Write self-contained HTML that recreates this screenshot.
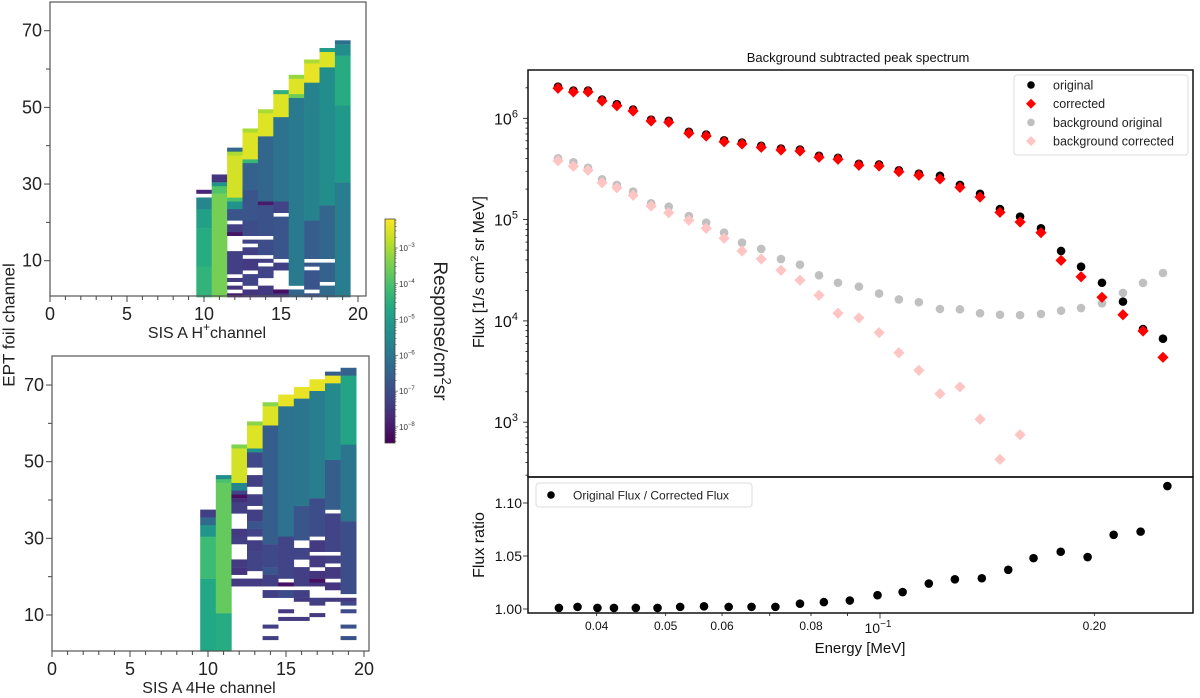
<!DOCTYPE html>
<html><head><meta charset="utf-8"><style>
html,body{margin:0;padding:0;background:#fff;}
svg{display:block;font-family:"Liberation Sans",sans-serif;}
</style></head><body>
<svg id="root" width="1200" height="698" viewBox="0 0 1200 698" xmlns="http://www.w3.org/2000/svg">
<defs>
<linearGradient id="vir" x1="0" y1="1" x2="0" y2="0">
<stop offset="0" stop-color="#440154"/><stop offset="0.1" stop-color="#482475"/><stop offset="0.2" stop-color="#414487"/><stop offset="0.3" stop-color="#355f8d"/><stop offset="0.4" stop-color="#2a788e"/><stop offset="0.5" stop-color="#21918c"/><stop offset="0.6" stop-color="#22a884"/><stop offset="0.7" stop-color="#44bf70"/><stop offset="0.8" stop-color="#7ad151"/><stop offset="0.9" stop-color="#bddf26"/><stop offset="1" stop-color="#fde725"/>
</linearGradient>
</defs>
<g id="hmTop"></g>
<g id="hmBot"></g>
<g id="cbar"></g>
<g id="main"></g>
<g id="ratio"></g>
<text x="10" y="325" font-size="17" text-anchor="middle" transform="rotate(-90 10 325)" dominant-baseline="middle" fill="#222">EPT foil channel</text>
<text x="207" y="338" font-size="16" text-anchor="middle" fill="#222">SIS A H<tspan dy="-7" font-size="12">+</tspan><tspan dy="7">channel</tspan></text>
<text x="209" y="693" font-size="16" text-anchor="middle" fill="#222">SIS A 4He channel</text>
<text x="434" y="331" font-size="19" text-anchor="middle" transform="rotate(90 434 331)" fill="#222">Response/cm<tspan dy="-8" font-size="13">2</tspan><tspan dy="8">sr</tspan></text>
<text x="858" y="62" font-size="13" text-anchor="middle" fill="#111">Background subtracted peak spectrum</text>
<text x="484" y="272" font-size="16" text-anchor="middle" transform="rotate(-90 484 272)" fill="#111">Flux [1/s cm<tspan dy="-6" font-size="11">2</tspan><tspan dy="6"> sr MeV]</tspan></text>
<text x="484" y="545" font-size="16" text-anchor="middle" transform="rotate(-90 484 545)" fill="#111">Flux ratio</text>
<text x="860" y="653" font-size="15" text-anchor="middle" fill="#111">Energy [MeV]</text>
</svg>
<script>
// ---------- Heatmap data: [column, rowStart, rowEnd, log10 response] ----------
const protonCells = [
[10,1,8,-4.4],[10,9,18,-4.6],[10,19,23,-4.9],[10,24,26,-5.6],[10,28,28,-7.8],
[11,1,27,-3.5],[11,28,29,-3.9],[11,30,30,-5.2],[11,31,32,-7.5],
[12,1,1,-8.0],[12,3,3,-7.5],[12,5,5,-7.4],[12,7,12,-7.3],[12,17,17,-8.1],[12,18,19,-7.3],[12,21,23,-6.8],[12,24,25,-5.3],[12,26,26,-4.0],[12,27,37,-2.6],[12,38,38,-3.0],[12,39,39,-6.3],
[13,1,2,-7.5],[13,4,6,-7.2],[13,8,10,-7.4],[13,12,13,-7.3],[13,15,15,-7.2],[13,17,20,-7.0],[13,21,28,-6.8],[13,29,35,-6.5],[13,36,36,-4.3],[13,37,43,-2.5],[13,44,44,-3.0],
[14,1,3,-7.4],[14,6,8,-7.2],[14,10,10,-7.3],[14,12,15,-7.0],[14,17,24,-6.9],[14,25,25,-8.0],[14,26,42,-6.4],[14,43,48,-2.5],[14,49,49,-3.0],
[15,1,1,-7.4],[15,2,2,-8.2],[15,8,9,-7.3],[15,11,21,-6.8],[15,23,25,-7.2],[15,26,47,-6.1],[15,48,53,-2.5],[15,54,54,-4.5],
[16,1,2,-6.4],[16,4,52,-5.9],[16,53,53,-3.6],[16,54,57,-2.5],[16,58,58,-3.2],
[17,1,1,-6.8],[17,3,7,-6.8],[17,9,9,-6.8],[17,11,20,-6.6],[17,21,56,-5.7],[17,57,61,-2.4],[17,62,62,-3.0],
[18,1,3,-6.3],[18,5,9,-6.5],[18,11,24,-6.4],[18,25,60,-5.4],[18,61,64,-2.5],[18,65,65,-5.0],
[19,1,30,-5.8],[19,31,50,-5.1],[19,51,63,-4.6],[19,64,66,-5.4],[19,67,67,-6.2]
];
const heliumCells = [
[10,1,19,-4.7],[10,20,30,-4.2],[10,31,33,-5.2],[10,34,35,-6.3],[10,36,37,-7.3],
[11,1,10,-4.6],[11,11,44,-3.7],[11,45,45,-4.0],[11,46,46,-5.4],
[12,18,19,-7.4],[12,21,22,-7.5],[12,23,24,-7.4],[12,29,30,-7.3],[12,31,32,-7.4],[12,37,39,-7.3],[12,40,40,-7.6],[12,41,41,-8.2],[12,42,42,-7.2],[12,43,44,-5.6],[12,45,53,-2.6],[12,54,54,-3.4],
[13,18,19,-7.4],[13,22,26,-7.2],[13,27,29,-7.3],[13,31,32,-7.2],[13,33,34,-6.8],[13,35,37,-7.3],[13,39,41,-7.3],[13,44,46,-7.3],[13,49,52,-7.1],[13,53,53,-5.3],[13,54,59,-2.5],[13,60,60,-3.3],
[14,4,4,-7.3],[14,7,7,-7.3],[14,15,16,-7.3],[14,18,20,-7.3],[14,21,22,-6.8],[14,23,28,-7.1],[14,29,59,-6.6],[14,60,64,-2.5],[14,65,65,-3.3],
[15,9,9,-7.4],[15,11,11,-7.4],[15,15,16,-7.0],[15,18,18,-8.2],[15,20,30,-7.2],[15,31,64,-6.1],[15,65,67,-2.4],
[16,9,9,-7.4],[16,14,14,-7.4],[16,15,16,-7.3],[16,18,22,-7.3],[16,25,27,-7.2],[16,30,38,-6.8],[16,39,66,-6.0],[16,67,69,-2.4],
[17,10,10,-7.4],[17,13,14,-7.3],[17,18,18,-7.5],[17,19,19,-8.2],[17,20,21,-7.5],[17,23,25,-7.4],[17,27,29,-7.4],[17,31,40,-7.0],[17,41,68,-5.8],[17,69,71,-2.4],
[18,14,14,-7.4],[18,17,18,-7.5],[18,20,22,-7.4],[18,24,25,-7.3],[18,27,36,-7.2],[18,38,50,-6.6],[18,51,70,-5.5],[18,71,72,-2.4],[18,73,73,-6.6],
[19,4,4,-6.9],[19,7,7,-6.9],[19,11,11,-7.0],[19,13,13,-7.1],[19,14,14,-7.4],[19,16,34,-7.0],[19,35,54,-6.0],[19,55,72,-4.8],[19,73,74,-6.5]
];
const hmXTicks = [0,5,10,15,20];
const hmYTicks = [10,30,50,70];
const cbTicks = [-3,-4,-5,-6,-7,-8];

// ---------- Spectrum data ----------
const energyMain = [0.0353,0.0371,0.0389,0.0407,0.0427,0.0450,0.0477,0.0505,0.0539,0.0570,0.0604,0.0640,0.0681,0.0726,0.0772,0.0821,0.0873,0.0934,0.0997,0.1063,0.1134,0.1214,0.1295,0.1382,0.1474,0.1573,0.1683,0.1796,0.1916,0.2050,0.2194,0.2341,0.2497];
const fluxOriginal = [2.05e6,1.88e6,1.88e6,1.53e6,1.38e6,1.22e6,9.7e5,9.45e5,7.36e5,6.92e5,6.07e5,5.77e5,5.35e5,5.03e5,4.92e5,4.26e5,4.08e5,3.56e5,3.50e5,3.07e5,2.84e5,2.71e5,2.20e5,1.80e5,1.27e5,1.07e5,8.2e4,4.9e4,3.43e4,2.38e4,1.55e4,8.3e3,6.67e3];
const fluxCorrected = [1.98e6,1.82e6,1.82e6,1.48e6,1.33e6,1.18e6,9.4e5,9.13e5,7.11e5,6.69e5,5.87e5,5.57e5,5.17e5,4.86e5,4.75e5,4.12e5,3.94e5,3.44e5,3.38e5,2.97e5,2.74e5,2.52e5,2.08e5,1.67e5,1.18e5,9.47e4,7.43e4,3.96e4,2.73e4,1.71e4,1.15e4,7.95e3,4.37e3];
const bgOriginal = [4.03e5,3.68e5,3.25e5,2.50e5,2.20e5,1.89e5,1.45e5,1.34e5,1.085e5,9.32e4,7.43e4,5.92e4,5.13e4,4.08e4,3.59e4,2.82e4,2.38e4,2.18e4,1.86e4,1.63e4,1.53e4,1.31e4,1.30e4,1.19e4,1.15e4,1.14e4,1.17e4,1.26e4,1.34e4,1.49e4,1.89e4,2.37e4,2.97e4];
const bgCorrected = [3.81e5,3.36e5,3.07e5,2.31e5,2.06e5,1.74e5,1.36e5,1.17e5,9.84e4,8.2e4,6.54e4,4.9e4,4.08e4,3.16e4,2.52e4,1.79e4,1.19e4,1.07e4,7.65e3,4.85e3,3.25e3,1.91e3,2.23e3,1.07e3,430,752];
const energyRatio = [0.0354,0.0376,0.0401,0.0423,0.0454,0.0487,0.0524,0.0566,0.0613,0.0660,0.0713,0.0772,0.0834,0.0907,0.0992,0.1076,0.1171,0.1274,0.1390,0.1514,0.1643,0.1794,0.1957,0.2129,0.2323,0.2533];
const fluxRatio = [1.001,1.002,1.001,1.001,1.001,1.001,1.002,1.0025,1.002,1.002,1.002,1.005,1.0065,1.008,1.013,1.016,1.024,1.028,1.029,1.037,1.048,1.054,1.049,1.070,1.073,1.116];
const mainYTicks = [3,4,5,6];
const ratioYTicks = [1.00,1.05,1.10];
const xTickVals = [0.04,0.05,0.06,0.08,0.2];
const xTickLabels = ["0.04","0.05","0.06","0.08","0.20"];

const NS="http://www.w3.org/2000/svg";
function mk(tag,attrs,parent){const e=document.createElementNS(NS,tag);for(const k in attrs)e.setAttribute(k,attrs[k]);parent.appendChild(e);return e;}
const VIR=[[68,1,84],[72,36,117],[65,68,135],[53,95,141],[42,120,142],[33,145,140],[34,168,132],[68,191,112],[122,209,81],[189,223,38],[253,231,37]];
const CBMIN=-8.45, CBMAX=-2.19;
function vir(L){let t=(L-CBMIN)/(CBMAX-CBMIN);t=Math.max(0,Math.min(1,t))*10;const i=Math.min(9,Math.floor(t)),f=t-i;const a=VIR[i],b=VIR[i+1];return `rgb(${Math.round(a[0]+(b[0]-a[0])*f)},${Math.round(a[1]+(b[1]-a[1])*f)},${Math.round(a[2]+(b[2]-a[2])*f)})`;}

function heatmap(g,cells,box,x0,xs,y10,label){
  const X=v=>x0+v*xs, Y=v=>y10-(v-10)*3.833;
  for(const c of cells){
    const r=mk('rect',{x:X(c[0]-0.5),y:Y(c[2]+0.5),width:xs+0.3,height:(c[2]-c[1]+1)*3.833+0.2,fill:vir(c[3])},g);
    
    
  }
  const fr=mk('rect',{x:box[0],y:box[1],width:box[2]-box[0],height:box[3]-box[1],fill:'none',stroke:'#555','stroke-width':1.2},g);
  
  
  for(let i=0;i<=20;i++){
    const major=i%5===0;
    mk('line',{x1:X(i),x2:X(i),y1:box[3],y2:box[3]+(major?6:4),stroke:'#444','stroke-width':1},g);
  }
  for(const v of hmXTicks){
    const t=mk('text',{x:X(v),y:box[3]+24,'font-size':18,'text-anchor':'middle',fill:'#222'},g);t.textContent=v;
    
    
  }
  for(let v=10;v<=70;v+=10){
    mk('line',{x1:box[0],x2:box[0]-(v%20===10?6:4),y1:Y(v),y2:Y(v),stroke:'#444','stroke-width':1},g);
  }
  for(const v of hmYTicks){
    const t=mk('text',{x:box[0]-8,y:Y(v)+6,'font-size':18,'text-anchor':'end',fill:'#222'},g);t.textContent=v;
    
    
  }
}
heatmap(document.getElementById('hmTop'),protonCells,[50,2,366,296],50,15.4,260.7,'proton');
heatmap(document.getElementById('hmBot'),heliumCells,[52,356,369,651],52,15.6,615,'helium');

// colorbar
(function(){
  const g=document.getElementById('cbar');
  const cb=mk('rect',{x:385,y:219,width:10,height:224,fill:'url(#vir)',stroke:'#444','stroke-width':0.8},g);
  
  
  const CY=L=>443-(L-CBMIN)/(CBMAX-CBMIN)*224;
  for(let d=-9;d<=-3;d++){for(let m=1;m<10;m++){const L=d+Math.log10(m);if(L<CBMIN||L>CBMAX)continue;mk('line',{x1:395,x2:395+(m===1?3:1.5),y1:CY(L),y2:CY(L),stroke:'#444','stroke-width':0.6},g);}}
  for(const L of cbTicks){
    const t=mk('text',{x:399,y:CY(L)+3,'font-size':8,fill:'#333'},g);
    t.textContent='10';
    const s=mk('tspan',{dy:-4,'font-size':6},t);s.textContent='\u2212'+(-L);
    
    
  }
})();

// spectrum axes
const PL=528, PR=1193, PT=70, PM=477, PB=613;
const X=E=>880+712*Math.log10(E/0.1);
const Y=v=>118.3-101.3*(Math.log10(v)-6);
const R=r=>609-(r-1)*1060;
function circle(g,cx,cy,fill,name){const c=mk('circle',{cx:cx,cy:cy,r:4.3,fill:fill},g);return c;}
function diamond(g,cx,cy,fill,name){const s=5.6;const p=mk('polygon',{points:`${cx},${cy-s} ${cx+s},${cy} ${cx},${cy+s} ${cx-s},${cy}`,fill:fill},g);return p;}
(function(){
  const g=document.getElementById('main');
  const gb=mk('g',{},g);
  
  
  energyMain.forEach((e,i)=>circle(gb,X(e),Y(bgOriginal[i]),'#c0c0c0','background-original-point'));
  const gp=mk('g',{},g);
  
  
  bgCorrected.forEach((v,i)=>diamond(gp,X(energyMain[i]),Y(v),'#ffc4c4','background-corrected-point'));
  const go=mk('g',{},g);
  
  
  energyMain.forEach((e,i)=>circle(go,X(e),Y(fluxOriginal[i]),'#000','original-point'));
  const gc=mk('g',{},g);
  
  
  energyMain.forEach((e,i)=>diamond(gc,X(e),Y(fluxCorrected[i]),'#ff0000','corrected-point'));
  const fr=mk('rect',{x:PL,y:PT,width:PR-PL,height:PM-PT,fill:'none',stroke:'#111','stroke-width':1.5},g);
  
  
  for(let d=2;d<=6;d++){for(let m=1;m<10;m++){const v=m*Math.pow(10,d);const y=Y(v);if(y<PT||y>PM)continue;mk('line',{x1:PL,x2:PL-(m===1?5:2.5),y1:y,y2:y,stroke:'#111','stroke-width':0.8},g);}}
  for(const d of mainYTicks){
    const t=mk('text',{x:PL-22,y:Y(Math.pow(10,d))+6,'font-size':16,'text-anchor':'middle',fill:'#111'},g);
    t.textContent='10';const s=mk('tspan',{dy:-7,'font-size':11},t);s.textContent=d;
    
    
  }
  const lg=mk('g',{},g);
  
  
  mk('rect',{x:1014,y:75,width:174,height:80,rx:3,fill:'#fff','fill-opacity':0.85,stroke:'#ddd'},lg);
  const items=[['original','c','#000'],['corrected','d','#ff0000'],['background original','c','#c0c0c0'],['background corrected','d','#ffc4c4']];
  items.forEach((it,i)=>{const y=85+i*18.7;
    if(it[1]==='c'){mk('circle',{cx:1031,cy:y,r:3.8,fill:it[2]},lg);}else{const s=5;mk('polygon',{points:`1031,${y-s} ${1031+s},${y} 1031,${y+s} ${1031-s},${y}`,fill:it[2]},lg);}
    const t=mk('text',{x:1053,y:y+4.5,'font-size':12.5,fill:'#222'},lg);t.textContent=it[0];
    
    
  });
})();
(function(){
  const g=document.getElementById('ratio');
  const gs=mk('g',{},g);
  
  
  energyRatio.forEach((e,i)=>circle(gs,X(e),R(fluxRatio[i]),'#000','ratio-point'));
  const fr=mk('rect',{x:PL,y:PM,width:PR-PL,height:PB-PM,fill:'none',stroke:'#111','stroke-width':1.5},g);
  
  
  for(const v of ratioYTicks){
    mk('line',{x1:PL,x2:PL-5,y1:R(v),y2:R(v),stroke:'#111','stroke-width':0.8},g);
    const t=mk('text',{x:PL-6,y:R(v)+5,'font-size':14,'text-anchor':'end',fill:'#111'},g);t.textContent=v.toFixed(2);
    
    
  }
  for(const m of [0.04,0.05,0.06,0.07,0.08,0.09,0.2]){mk('line',{x1:X(m),x2:X(m),y1:PB,y2:PB+3,stroke:'#111','stroke-width':0.8},g);}
  mk('line',{x1:X(0.1),x2:X(0.1),y1:PB,y2:PB+5.5,stroke:'#111','stroke-width':0.8},g);
  xTickVals.forEach((v,i)=>{const t=mk('text',{x:X(v),y:PB+17,'font-size':12,'text-anchor':'middle',fill:'#111'},g);t.textContent=xTickLabels[i];
    
    });
  const t=mk('text',{x:X(0.1)-2,y:PB+20,'font-size':14,'text-anchor':'middle',fill:'#111'},g);t.textContent='10';
  const s=mk('tspan',{dy:-6,'font-size':10},t);s.textContent='\u22121';
  
  
  const lg=mk('g',{},g);
  
  
  mk('rect',{x:536,y:483,width:216,height:24,rx:3,fill:'#fff',stroke:'#ddd'},lg);
  mk('circle',{cx:551,cy:495,r:3.8,fill:'#000'},lg);
  const lt=mk('text',{x:573,y:499.5,'font-size':12,fill:'#222'},lg);lt.textContent='Original Flux / Corrected Flux';
  
  
})();
</script>
</body></html>
